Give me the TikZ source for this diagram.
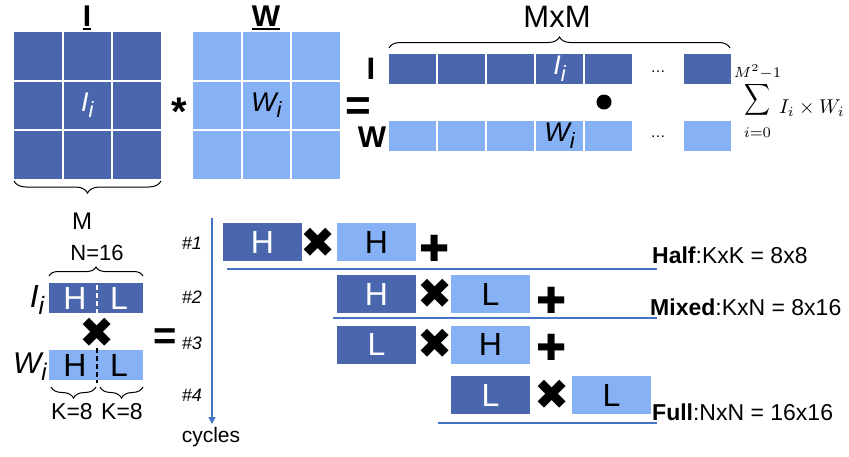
\documentclass[tikz,border=0pt]{standalone}
\usepackage{graphicx}
\usepackage{fontspec}
\setmainfont{Liberation Sans}
\newfontfamily\dejavu{DejaVu Sans}
\usetikzlibrary{decorations.pathreplacing,arrows.meta}
\definecolor{dkb}{HTML}{4A67AD}
\definecolor{ltb}{HTML}{86B1F4}
\definecolor{lnb}{HTML}{4472C4}
\newcommand\fs[1]{\fontsize{#1}{#1}\selectfont}
\newcommand\isub[3]{{\fs{#1}\itshape #2}{\fs{#3}\itshape\raisebox{-0.3em}{i}}}
\begin{document}
\begin{tikzpicture}[x=1pt,y=-1pt,
  gcell/.style={inner sep=0pt, minimum width=47.5pt, minimum height=47.5pt},
  rcell/.style={inner sep=0pt, minimum width=47pt, minimum height=30pt},
  hbox/.style={inner sep=0pt, minimum width=79pt, minimum height=38pt, font=\fs{32}},
  bar/.style={inner sep=0pt, minimum width=94pt, minimum height=30pt},
  ttl/.style={inner sep=0pt, anchor=base, font=\fs{30}\bfseries},
  brc/.style={decorate, decoration={brace, amplitude=#1}, line width=1pt},
  brc/.default=10pt,
  timesg/.style={inner sep=0pt, font=\dejavu\fs{42}},
  plusg/.style={inner sep=0pt, font=\dejavu\fs{36}},
  sepl/.style={lnb, line width=1.2pt},
  lbl/.style={inner sep=0pt, anchor=west, font=\fs{23}}]
\useasboundingbox (0,0) rectangle (849,456);

% ---- top grids
\node[ttl] (tI) at (87,26) {I};
\draw[line width=2.5pt] ([yshift=-3pt]tI.base west) -- ([yshift=-3pt]tI.base east);
\node[ttl] (tW) at (266,26) {W};
\draw[line width=2.5pt] ([yshift=-3pt]tW.base west) -- ([yshift=-3pt]tW.base east);

\foreach \r/\y in {1/55.75,2/105.25,3/154.75}{
  \foreach \c/\x in {1/37.75,2/87.25,3/136.75}{
    \node[gcell, fill=dkb] (I\r\c) at (\x,\y) {};
  }
  \foreach \c/\x in {1/216.75,2/266.25,3/315.75}{
    \node[gcell, fill=ltb] (W\r\c) at (\x,\y) {};
  }
}
\node[white] (Ii) at (I22) {\isub{27}{I}{22}};
\node (Wi) at (W22) {\isub{27}{W}{22}};

\node[inner sep=0pt, font=\fs{40}\bfseries] (ast) at (179,112) {*};
\node[inner sep=0pt, font=\fs{44}\bfseries] (eq1) at (358,109) {=};

\draw[brc=12pt] (161,181) -- (14,181);
\node[font=\fs{24}] (M) at (82,221) {M};

% ---- row vectors
\foreach \i/\x in {1/412.5,2/461.5,3/510.5,4/559.5,5/608.5,6/707}{
  \node[rcell, fill=dkb] (R\i) at (\x,69) {};
  \node[rcell, fill=ltb] (Q\i) at (\x,136) {};
}
\node[white] (Ri) at (R4) {\isub{27}{I}{22}};
\node (Qi) at (Q4) {\isub{27}{W}{22}};
\node[font=\fs{15}] (dots1) at (658,72) {…};
\node[font=\fs{15}] (dots2) at (658,137) {…};
\node[inner sep=0pt, font=\fs{31}\bfseries] (rI) at (371,69) {I};
\node[inner sep=0pt, font=\fs{30}\bfseries] (rW) at (372,137) {W};
\fill (604,102) circle (7.5pt);
\draw[brc=11pt] (389,48) -- (730,48);
\node[inner sep=0pt, font=\fs{31}] (mxm) at (557,17) {MxM};

\node[inner sep=0pt] (sig) at (757.5,100) {\scalebox{1.8}[2.2]{$\displaystyle\sum$}};
\node[inner sep=0pt] (sup) at (757.5,72) {\scalebox{2.1}{$\scriptstyle M^2-1$}};
\node[inner sep=0pt] (sub) at (757.5,133) {\scalebox{2.1}{$\scriptstyle i=0$}};
\node[inner sep=0pt, anchor=base west] (prod) at (779,113) {\scalebox{2}{$I_i\times W_i$}};

% ---- bottom left
\node[font=\fs{22}] (n16) at (97,253) {N=16};
\draw[brc=9pt] (49,276) -- (143,276);
\node[bar, fill=dkb] (Ibar) at (96,298) {};
\node[white, font=\fs{32}] (Ih) at (75,298) {H};
\node[white, font=\fs{32}] (Il) at (119,298) {L};
\draw[white, line width=2pt, dash pattern=on 5pt off 3pt] (97,285) -- (97,313);
\node[timesg] (x0) at (97,333) {✖};
\node[bar, fill=ltb] (Wbar) at (96,365) {};
\node[font=\fs{32}] (Wh) at (75,365) {H};
\node[font=\fs{32}] (Wl) at (119,365) {L};
\draw[line width=2pt, dash pattern=on 5pt off 3pt] (97,348) -- (97,383);
\node[inner sep=0pt] (IiL) at (37,300) {\isub{32}{I}{25}};
\node[inner sep=0pt] (WiL) at (30,367) {\isub{30}{W}{24}};
\draw[brc=11pt] (96,387) -- (51,387);
\draw[brc=11pt] (143,387) -- (100,387);
\node[font=\fs{23}] (k1) at (72,412) {K=8};
\node[font=\fs{23}] (k2) at (122,412) {K=8};
\node[inner sep=0pt, font=\fs{40}\bfseries] (eq2) at (165,339) {=};

% ---- timeline
\coordinate (t0) at (212,218);
\coordinate (t1) at (212,424);
\draw[lnb, line width=1.3pt, -{Triangle[width=7pt,length=7pt]}] (t0) -- (t1);
\node[font=\fs{21}] (cyc) at (211,437) {cycles};
\node[font=\fs{18}\itshape] (c1) at (192,243) {\#1};
\node[font=\fs{18}\itshape] (c2) at (192,297) {\#2};
\node[font=\fs{18}\itshape] (c3) at (192,343) {\#3};
\node[font=\fs{18}\itshape] (c4) at (192,395) {\#4};

% ---- cycles
\node[hbox, fill=dkb, text=white] (a1) at (262.5,242) {H};
\node[timesg] (ax1) at (318,243) {✖};
\node[hbox, fill=ltb] (b1) at (376.5,242) {H};
\node[plusg] (p1) at (435,248) {✚};

\node[hbox, fill=dkb, text=white] (a2) at (376.5,294) {H};
\node[timesg] (ax2) at (435,294) {✖};
\node[hbox, fill=ltb] (b2) at (490.5,294) {L};
\node[plusg] (p2) at (552,300) {✚};

\node[hbox, fill=dkb, text=white] (a3) at (376.5,344.5) {L};
\node[timesg] (ax3) at (435,344) {✖};
\node[hbox, fill=ltb] (b3) at (490.5,344.5) {H};
\node[plusg] (p3) at (552,347) {✚};

\node[hbox, fill=dkb, text=white] (a4) at (490.5,395) {L};
\node[timesg] (ax4) at (552,395) {✖};
\node[hbox, fill=ltb] (b4) at (611.5,395) {L};

\coordinate (l1a) at (227,269); \coordinate (l1b) at (657,269);
\coordinate (l2a) at (333,318); \coordinate (l2b) at (657,318);
\coordinate (l4a) at (438,423); \coordinate (l4b) at (657,423);
\draw[sepl] (l1a) -- (l1b);
\draw[sepl] (l2a) -- (l2b);
\draw[sepl] (l4a) -- (l4b);

\node[lbl] (half) at (652,255) {\textbf{Half}:KxK = 8x8};
\node[lbl] (mixed) at (650,307) {\textbf{Mixed}:KxN = 8x16};
\node[lbl] (full) at (652,412) {\textbf{Full}:NxN = 16x16};
\end{tikzpicture}
\end{document}
